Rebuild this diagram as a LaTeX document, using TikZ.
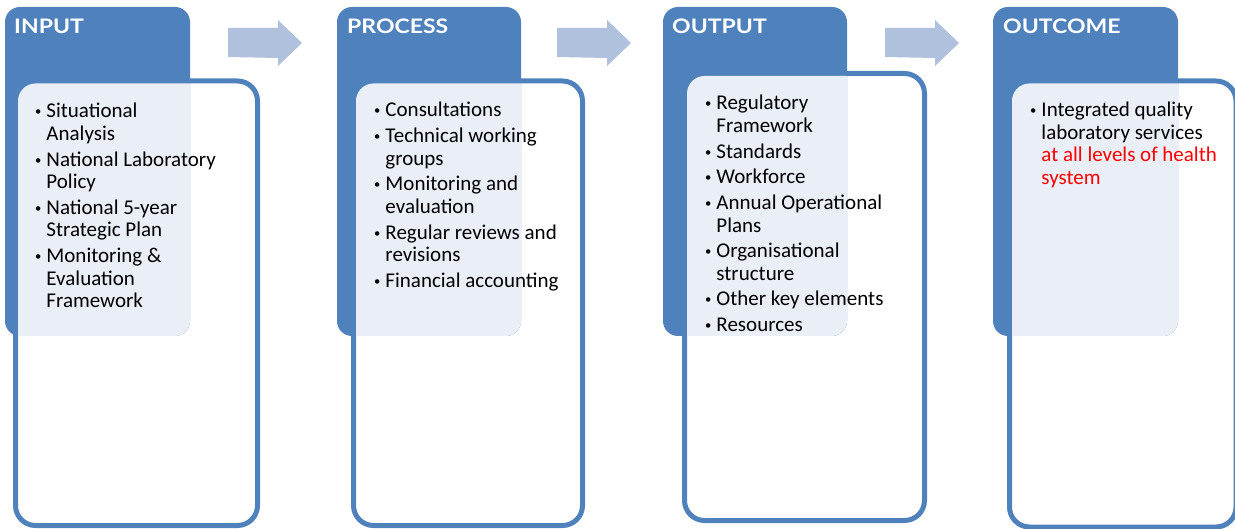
\documentclass[tikz,border=0pt]{standalone}
\usepackage{fontspec}
\setmainfont{Carlito}
\newfontfamily\headfont[FakeStretch=1.15]{Lato}
\usetikzlibrary{positioning}
\definecolor{accblue}{HTML}{4F81BD}
\definecolor{panelblue}{HTML}{EAEFF7}
\definecolor{arrowblue}{HTML}{AFC1DC}
\definecolor{hired}{HTML}{FF0000}
\tikzset{
  headbox/.style={fill=accblue, rounded corners=15pt},
  bodybox/.style={draw=accblue, line width=5pt, fill=white, rounded corners=20pt},
  panel/.style={fill=panelblue, rounded corners=17.5pt},
  flow/.style={fill=arrowblue},
  headtext/.style={anchor=base west, inner sep=0pt, text=white, font=\headfont\bfseries\fontsize{20}{24}\selectfont},
  listtext/.style={anchor=base west, inner sep=0pt, font=\fontsize{21}{22.5}\selectfont}
}
\newcommand{\bul}{\raisebox{2pt}{\scalebox{0.6}{\textbullet}}}

\begin{document}
\begin{tikzpicture}[x=1pt,y=-1pt]
\useasboundingbox (0,0) rectangle (1235,529);
% columns: head box, body box, light panel
\foreach \bl/\br/\wl/\wr/\wt/\wb in {5/190/15.5/257.5/81/525.5, 337/521/353.5/582.5/81/525.5,
    663/847/684.5/924.5/73.5/520.5, 993/1178/1009.5/1236/81/527} {
  \draw[bodybox] (\wl,\wt) rectangle (\wr,\wb);
  \fill[headbox] (\bl,7) rectangle (\br,336);
  \begin{scope}
    \clip[rounded corners=15pt] (\bl,7) rectangle (\br,336);
    \fill[panel] (\wl+2.5,\wt+2.5) rectangle (\wr-2.5,\wb-2.5);
  \end{scope}
}
% block arrows
\foreach \x in {228, 557, 885}
  \fill[flow] (\x,28) -- ++(50,0) -- ++(0,-8) -- ++(24,23) -- ++(-24,23) -- ++(0,-8) -- (\x,57) -- cycle;

\node[headtext] (inhead) at (14,34) {INPUT};
\node[headtext] (prhead) at (347,34) {PROCESS};
\node[headtext] (outhead) at (672,34) {OUTPUT};
\node[headtext] (ochead) at (1003,34) {OUTCOME};

\node[listtext] (inlist) at (35,118) {\begin{tabular}[t]{@{}l@{\hspace{5pt}}l@{}}
  \bul & Situational\\ & Analysis\\[3.2pt]
  \bul & National Laboratory\\ & Policy\\[3.2pt]
  \bul & National 5-year\\ & Strategic Plan\\[3.2pt]
  \bul & Monitoring \&\\ & Evaluation\\ & Framework
\end{tabular}};
\node[listtext] (prlist) at (374,117) {\begin{tabular}[t]{@{}l@{\hspace{5pt}}l@{}}
  \bul & Consultations\\[3.2pt]
  \bul & Technical working\\ & groups\\[3.2pt]
  \bul & Monitoring and\\ & evaluation\\[3.2pt]
  \bul & Regular reviews and\\ & revisions\\[3.2pt]
  \bul & Financial accounting
\end{tabular}};
\node[listtext] (outlist) at (705,110) {\begin{tabular}[t]{@{}l@{\hspace{5pt}}l@{}}
  \bul & Regulatory\\ & Framework\\[3.2pt]
  \bul & Standards\\[3.2pt]
  \bul & Workforce\\[3.2pt]
  \bul & Annual Operational\\ & Plans\\[3.2pt]
  \bul & Organisational\\ & structure\\[3.2pt]
  \bul & Other key elements\\[3.2pt]
  \bul & Resources
\end{tabular}};
\node[listtext] (oclist) at (1030,117) {\begin{tabular}[t]{@{}l@{\hspace{5pt}}l@{}}
  \bul & Integrated quality\\ & laboratory services\\
  & \textcolor{hired}{at all levels of health}\\ & \textcolor{hired}{system}
\end{tabular}};
\end{tikzpicture}
\end{document}
